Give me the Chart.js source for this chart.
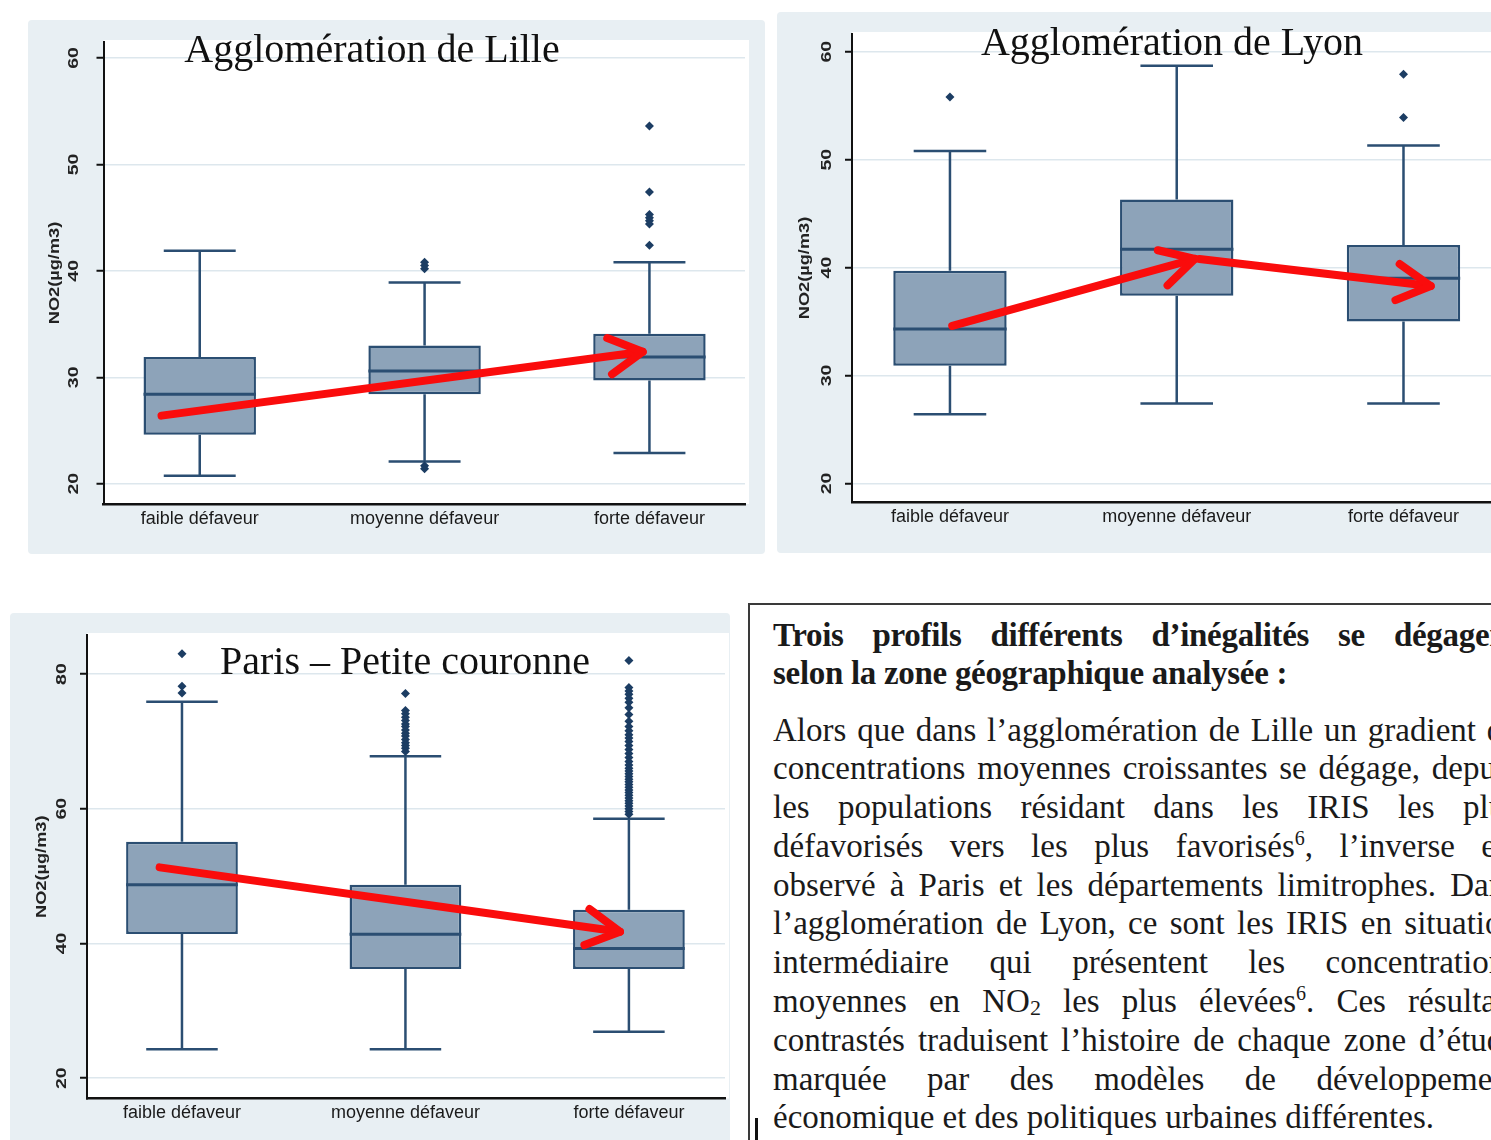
<!DOCTYPE html>
<html><head><meta charset="utf-8">
<script src="https://cdn.jsdelivr.net/npm/chart.js@4.4.0/dist/chart.umd.min.js"></script>
<style>
html,body{margin:0;padding:0;background:#fff;overflow:hidden;width:1491px;height:1140px;}
body{position:relative;}
.panel{position:absolute;background:#e8eff3;border-radius:4px;overflow:hidden;}
.panel canvas{position:absolute;left:0;top:0;}
#tbox{position:absolute;left:748px;top:603px;width:800px;height:600px;border:2px solid #3a3a3a;background:#fff;}
#mark{position:absolute;left:755px;top:1118px;width:3px;height:22px;background:#111;}
#txt{position:absolute;left:773px;top:616px;width:745px;font-family:'Liberation Serif','Times New Roman',serif;color:#1a1a1a;font-size:33px;}
#txt .h{font-weight:bold;line-height:38px;letter-spacing:-0.3px;}
#txt .b{line-height:38.8px;margin-top:18.5px;}
#txt .l{overflow:hidden;white-space:normal;}
#txt .h .l{height:38px;}
#txt .b .l{height:38.8px;}
#txt .j{text-align:justify;text-align-last:justify;}
#txt sup{font-size:20px;line-height:0;vertical-align:super;}
#txt sub{font-size:22px;line-height:0;vertical-align:-3px;}
</style></head><body>
<div class="panel" style="left:28px;top:20px;width:737px;height:534px"><canvas id="c1" width="737" height="534"></canvas></div>
<div class="panel" style="left:777px;top:12px;width:760px;height:541px"><canvas id="c2" width="744" height="541"></canvas></div>
<div class="panel" style="left:10px;top:613px;width:720px;height:560px"><canvas id="c3" width="720" height="527"></canvas></div>
<div id="tbox"></div>
<div id="mark"></div>
<div id="txt">
 <div class="h">
  <div class="l j">Trois profils différents d’inégalités se dégagent</div>
  <div class="l">selon la zone géographique analysée :</div>
 </div>
 <div class="b">
  <div class="l j">Alors que dans l’agglomération de Lille un gradient de</div>
  <div class="l j">concentrations moyennes croissantes se dégage, depuis</div>
  <div class="l j">les populations résidant dans les IRIS les plus</div>
  <div class="l j">défavorisés vers les plus favorisés<sup>6</sup>, l’inverse est</div>
  <div class="l j">observé à Paris et les départements limitrophes. Dans</div>
  <div class="l j">l’agglomération de Lyon, ce sont les IRIS en situation</div>
  <div class="l j">intermédiaire qui présentent les concentrations</div>
  <div class="l j">moyennes en NO<sub>2</sub> les plus élevées<sup>6</sup>. Ces résultats</div>
  <div class="l j">contrastés traduisent l’histoire de chaque zone d’étude</div>
  <div class="l j">marquée par des modèles de développement</div>
  <div class="l">économique et des politiques urbaines différentes.</div>
 </div>
</div>
<script>
// ---------- DATA ----------
const categories = ['faible défaveur', 'moyenne défaveur', 'forte défaveur'];
const yAxisTitle = 'NO2(µg/m3)';

const lilleTitle = 'Agglomération de Lille';
const lilleTicks = [20, 30, 40, 50, 60];
const lilleMin = [20.75, 22.1, 22.9];
const lilleQ1 = [24.6, 28.4, 29.7];
const lilleMedian = [28.4, 30.6, 31.9];
const lilleQ3 = [31.9, 33.0, 34.1];
const lilleMax = [41.9, 38.9, 40.8];
const lilleOutliers = [[], [40.2, 40.5, 40.8, 21.4, 21.7], [53.6, 47.4, 45.3, 45.0, 44.7, 44.4, 42.4]];
const lilleArrows = [{from: [0.83, 26.4], to: [2.97, 32.4]}];

const lyonTitle = 'Agglomération de Lyon';
const lyonTicks = [20, 30, 40, 50, 60];
const lyonMin = [26.4, 27.4, 27.4];
const lyonQ1 = [30.9, 37.4, 35.0];
const lyonMedian = [34.3, 41.7, 39.0];
const lyonQ3 = [39.7, 46.3, 42.1];
const lyonMax = [50.8, 58.7, 51.3];
const lyonOutliers = [[55.8], [], [57.9, 53.9]];
const lyonArrows = [{from: [1.01, 34.6], to: [2.08, 40.8]}, {from: [2.10, 40.8], to: [3.12, 38.3]}];

const parisTitle = 'Paris – Petite couronne';
const parisTicks = [20, 40, 60, 80];
const parisMin = [24.3, 24.3, 26.9];
const parisQ1 = [41.4, 36.2, 36.2];
const parisMedian = [48.7, 41.35, 39.25];
const parisQ3 = [55.1, 48.7, 45.0];
const parisMax = [75.9, 67.8, 58.5];
const parisOutliers = [
  [83.0, 78.2, 77.2],
  [77.1, 74.6, 74.1, 73.6, 73.1, 72.6, 72.2, 71.7, 71.2, 70.8, 70.3, 69.8, 69.4, 69.0, 68.5],
  [82.0, 78.0, 77.5, 77.0, 76.4, 75.8, 75.0, 74.0, 73.0, 72.2, 71.6, 71.0, 70.5, 70.0, 69.4, 68.8,
   68.2, 67.6, 67.0, 66.5, 66.0, 65.6, 65.2, 64.8, 64.4, 64.0, 63.6, 63.2, 62.8, 62.4, 62.0, 61.6,
   61.2, 60.8, 60.4, 60.0, 59.6, 59.2]
];
const parisArrows = [{from: [0.90, 51.3], to: [2.96, 41.75]}];

// ---------- STYLE ----------
const BOX_FILL = '#8da3b9', BOX_LINE = '#2b4e72', DOT = '#1c3d63', RED = 'rgb(250,12,12)';
const CAP = 0.16, MED = 0.25;

const helpers = {
  id: 'helpers',
  beforeDraw(chart) {
    const a = chart.chartArea, c = chart.ctx;
    c.save(); c.fillStyle = '#ffffff';
    c.fillRect(a.left, a.top - 2, a.right - a.left + 4, a.bottom - a.top + 2);
    c.restore();
  },
  afterDatasetsDraw(chart) {
    const c = chart.ctx;
    chart.data.datasets.forEach((ds, i) => {
      if (!ds.arrowHead) return;
      const pts = chart.getDatasetMeta(i).data;
      const p0 = pts[0], p1 = pts[1];
      const ang = Math.atan2(p1.y - p0.y, p1.x - p0.x);
      const L = 38, h = 0.5;
      c.save();
      c.strokeStyle = RED; c.lineWidth = 8; c.lineCap = 'round'; c.lineJoin = 'round';
      c.beginPath();
      c.moveTo(p1.x - L * Math.cos(ang - h), p1.y - L * Math.sin(ang - h));
      c.lineTo(p1.x, p1.y);
      c.lineTo(p1.x - L * Math.cos(ang + h), p1.y - L * Math.sin(ang + h));
      c.stroke();
      c.restore();
    });
  },
  afterDraw(chart) {
    const o = chart.options.plugins.helpers;
    const c = chart.ctx, a = chart.chartArea, ys = chart.scales.y;
    c.save();
    c.fillStyle = '#222';
    c.font = 'bold 15px "Liberation Sans", Arial, sans-serif';
    c.textAlign = 'center'; c.textBaseline = 'middle';
    ys.ticks.forEach(t => {
      const y = ys.getPixelForValue(t.value);
      c.save(); c.translate(a.left - o.tickOffset, y); c.rotate(-Math.PI / 2); c.scale(1.3, 1);
      c.fillText(String(t.value), 0, 0); c.restore();
    });
    c.font = 'bold 14px "Liberation Sans", Arial, sans-serif';
    c.save(); c.translate(a.left - o.titleOffset, (a.top + a.bottom) / 2); c.rotate(-Math.PI / 2); c.scale(1.3, 1);
    c.fillText(yAxisTitle, 0, 0); c.restore();
    c.fillStyle = '#111';
    c.font = '40px "Liberation Serif", "Times New Roman", serif';
    c.textBaseline = 'alphabetic';
    c.fillText(o.title, o.titleX, o.titleY);
    c.restore();
  }
};

function buildChart(id, d) {
  const whisk = [], medLine = [], outPts = [], boxes = [];
  d.q1.forEach((_, i) => {
    const x = i + 1;
    boxes.push({x, y: [d.q1[i], d.q3[i]]});
    whisk.push({x, y: d.q3[i]}, {x, y: d.max[i]}, {x, y: null},
      {x: x - CAP, y: d.max[i]}, {x: x + CAP, y: d.max[i]}, {x, y: null},
      {x, y: d.q1[i]}, {x, y: d.min[i]}, {x, y: null},
      {x: x - CAP, y: d.min[i]}, {x: x + CAP, y: d.min[i]}, {x, y: null});
    medLine.push({x: x - MED, y: d.med[i]}, {x: x + MED, y: d.med[i]}, {x, y: null});
    d.out[i].forEach(v => outPts.push({x, y: v}));
  });
  const datasets = [];
  d.arrows.forEach(ar => datasets.push({
    type: 'line', data: [{x: ar.from[0], y: ar.from[1]}, {x: ar.to[0], y: ar.to[1]}],
    borderColor: RED, borderWidth: 8, borderCapStyle: 'round', pointRadius: 0, order: 0, arrowHead: true, clip: false
  }));
  datasets.push({type: 'line', data: medLine, borderColor: BOX_LINE, borderWidth: 3, pointRadius: 0, spanGaps: false, order: 1});
  datasets.push({type: 'scatter', data: outPts, backgroundColor: DOT, borderColor: DOT, borderWidth: 0,
    pointStyle: 'rectRot', pointRadius: 4.5, order: 2, clip: false});
  datasets.push({type: 'bar', data: boxes, backgroundColor: BOX_FILL, borderColor: BOX_LINE, borderWidth: 2.5,
    borderSkipped: false, barPercentage: 0.5, categoryPercentage: 1, order: 3});
  datasets.push({type: 'line', data: whisk, borderColor: BOX_LINE, borderWidth: 2.5, pointRadius: 0, spanGaps: false, order: 4});

  return new Chart(document.getElementById(id), {
    type: 'bar',
    data: {datasets},
    options: {
      responsive: false, animation: false, events: [],
      layout: {padding: {left: 0, top: d.padTop, right: d.padRight, bottom: 0}},
      plugins: {legend: {display: false}, tooltip: {enabled: false},
        helpers: {title: d.title, titleX: d.titleX, titleY: d.titleY, tickOffset: d.tickOffset, titleOffset: d.titleOffset}},
      scales: {
        x: {
          type: 'linear', offset: false, min: d.xMin, max: d.xMax,
          afterFit: s => { s.height = d.xHeight; },
          afterBuildTicks: s => { s.ticks = categories.map((_, i) => ({value: i + 1})); },
          grid: {display: false, drawTicks: false},
          border: {display: true, color: '#111', width: 2.5},
          ticks: {padding: 4, autoSkip: false, maxRotation: 0, color: '#1a1a1a',
            font: {family: '"Liberation Sans", Arial, sans-serif', size: 18},
            callback: v => categories[Math.round(v) - 1] || ''}
        },
        y: {
          type: 'linear', min: d.yMin, max: d.yMax,
          afterFit: s => { s.width = d.yWidth; },
          afterBuildTicks: s => { s.ticks = d.ticks.map(v => ({value: v})); },
          grid: {color: '#dde7ed', lineWidth: 1.5, drawTicks: true, tickLength: 7, tickColor: '#111', tickWidth: 2},
          border: {display: true, color: '#111', width: 2},
          ticks: {display: false}
        }
      }
    },
    plugins: [helpers]
  });
}

buildChart('c1', {min: lilleMin, q1: lilleQ1, med: lilleMedian, q3: lilleQ3, max: lilleMax, out: lilleOutliers,
  arrows: lilleArrows, ticks: lilleTicks, title: lilleTitle,
  yMin: 18.1, yMax: 61.5, xMin: 0.572, xMax: 3.425, padTop: 22, padRight: 20, xHeight: 50, yWidth: 75.5,
  titleX: 344, titleY: 42, tickOffset: 30, titleOffset: 48});
buildChart('c2', {min: lyonMin, q1: lyonQ1, med: lyonMedian, q3: lyonQ3, max: lyonMax, out: lyonOutliers,
  arrows: lyonArrows, ticks: lyonTicks, title: lyonTitle,
  yMin: 18.28, yMax: 61.64, xMin: 0.568, xMax: 3.43, padTop: 22, padRight: 20, xHeight: 51, yWidth: 75,
  titleX: 395, titleY: 43, tickOffset: 25, titleOffset: 47});
buildChart('c3', {min: parisMin, q1: parisQ1, med: parisMedian, q3: parisQ3, max: parisMax, out: parisOutliers,
  arrows: parisArrows, ticks: parisTicks, title: parisTitle,
  yMin: 16.98, yMax: 85.8, xMin: 0.575, xMax: 3.43, padTop: 22, padRight: 5, xHeight: 41.5, yWidth: 77,
  titleX: 395, titleY: 61, tickOffset: 25, titleOffset: 44.5});
</script>
</body></html>
